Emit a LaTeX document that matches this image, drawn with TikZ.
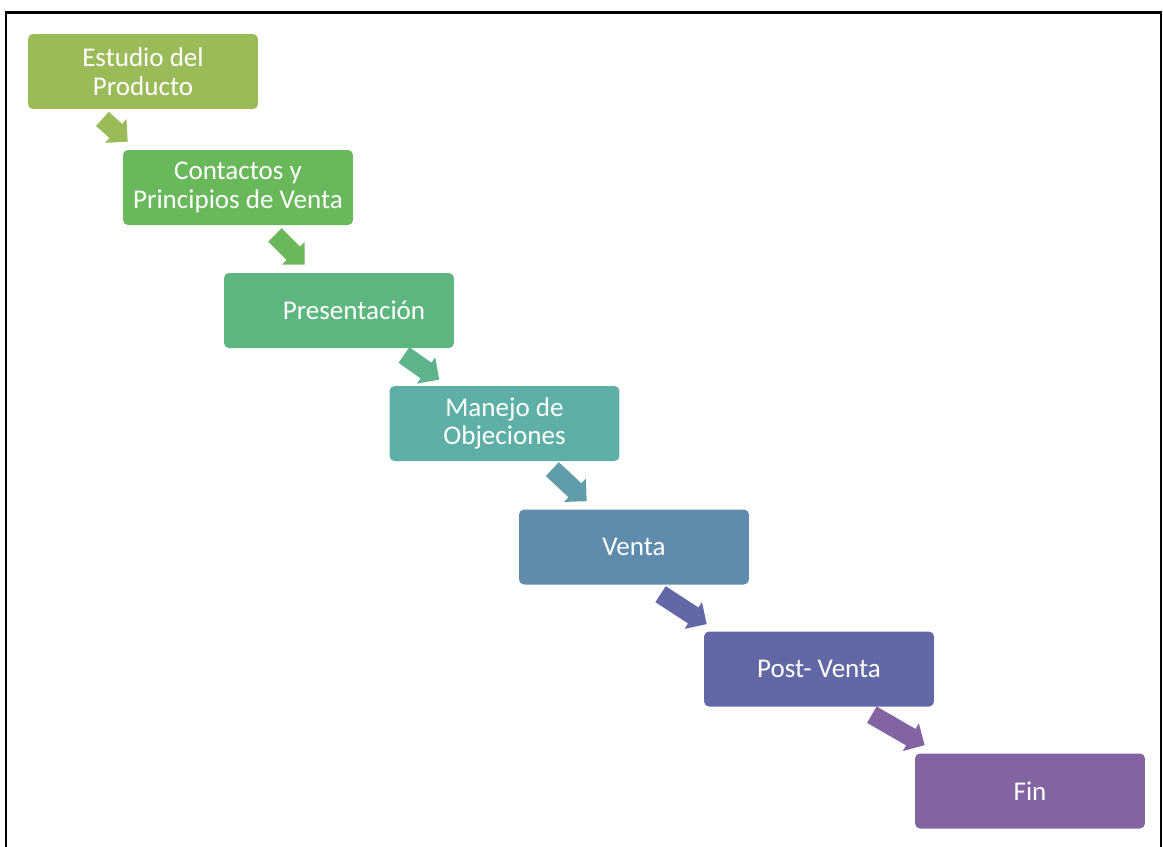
\documentclass[tikz,border=0pt]{standalone}
\usepackage{fontspec}
\setmainfont{Carlito}
\usetikzlibrary{calc}

% fat block arrow from tail #1 to tip #2, colour #3
\newcommand\fatarrow[3]{%
  \coordinate (hb) at ($(#2)!0.32cm!(#1)$);
  \fill[#3] ($(#1)!0.19cm!-90:(#2)$) -- ($(hb)!0.19cm!-90:(#2)$)
    -- ($(hb)!0.32cm!-90:(#2)$) -- (#2) -- ($(hb)!0.32cm!90:(#2)$)
    -- ($(hb)!0.19cm!90:(#2)$) -- ($(#1)!0.19cm!90:(#2)$) -- cycle;
}

\begin{document}
\begin{tikzpicture}[x=0.02cm,y=0.02cm,
  stepbox/.style={rounded corners=0.1cm,minimum width=4.6cm,minimum height=1.5cm,
    inner sep=0pt,text=white,align=center,font=\fontsize{15.4}{16.4}\selectfont}]
  \definecolor{step1}{RGB}{155,187,89}
  \definecolor{step2}{RGB}{106,184,92}
  \definecolor{step3}{RGB}{93,182,128}
  \definecolor{step4}{RGB}{94,175,165}
  \definecolor{step5}{RGB}{95,140,172}
  \definecolor{step6}{RGB}{98,103,166}
  \definecolor{step7}{RGB}{129,100,161}

  \useasboundingbox (0,0) rectangle (1163,-846);

  % ---- frame (open at the bottom) ----
  \draw[line width=1.4pt] (6,-850) -- (6,-12.5) -- (1161,-12.5) -- (1161,-850);

  % ---- steps ----
  \node[stepbox,fill=step1] (estudio)   at (143,-71.5)  {Estudio del\\Producto};
  \node[stepbox,fill=step2] (contactos) at (238,-187.5) {Contactos y\\Principios de Venta};
  \node[stepbox,fill=step3] (present)   at (339,-310.5) {\hspace*{0.6cm}Presentación};
  \node[stepbox,fill=step4] (manejo)    at (504.5,-423.5) {Manejo de\\Objeciones};
  \node[stepbox,fill=step5] (venta)     at (634,-547)   {Venta};
  \node[stepbox,fill=step6] (postventa) at (819,-669)   {Post- Venta};
  \node[stepbox,fill=step7] (fin)       at (1030,-791)  {Fin};

  % ---- arrows: tip near the next box, tail below the previous one ----
  \coordinate (p1) at ($(contactos.north west)+(5,8)$);
  \coordinate (t1) at ($(p1)+(138:34)$);
  \coordinate (p2) at ($(present.north west)+(81,8)$);
  \coordinate (t2) at ($(p2)+(135:42)$);
  \coordinate (p3) at ($(manejo.north west)+(50,6)$);
  \coordinate (t3) at ($(p3)+(145:43)$);
  \coordinate (p4) at ($(venta.north west)+(68,8)$);
  \coordinate (t4) at ($(p4)+(137:47)$);
  \coordinate (p5) at ($(postventa.north west)+(3,7)$);
  \coordinate (t5) at ($(p5)+(147:55)$);
  \coordinate (p6) at ($(fin.north west)+(10,8)$);
  \coordinate (t6) at ($(p6)+(150:61)$);

  \fatarrow{t1}{p1}{step1}
  \fatarrow{t2}{p2}{step2}
  \fatarrow{t3}{p3}{step3!70!step4}
  \fatarrow{t4}{p4}{step4!50!step5}
  \fatarrow{t5}{p5}{step6}
  \fatarrow{t6}{p6}{step7}
\end{tikzpicture}
\end{document}
